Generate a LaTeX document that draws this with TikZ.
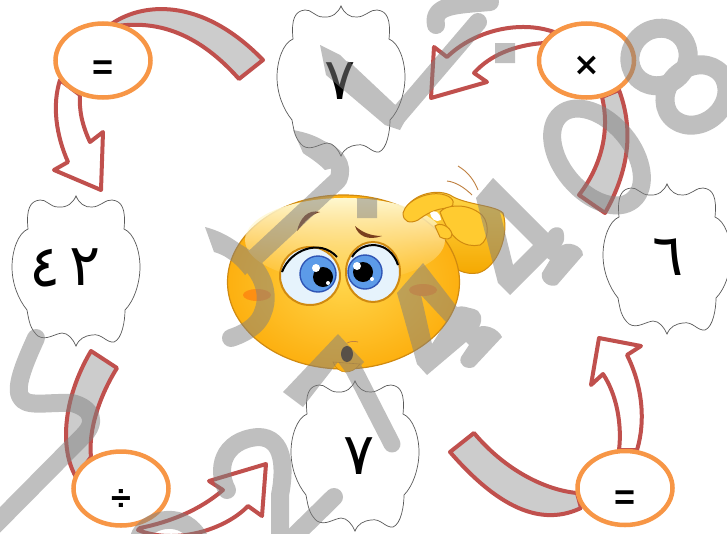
\documentclass[tikz,border=0pt]{standalone}
\usepackage{fontspec}
\setmainfont{Liberation Sans}
\newfontfamily\arabicfont[Script=Arabic]{DejaVu Sans}
\newfontfamily\signfont{DejaVu Sans}
\usetikzlibrary{calc,shapes.geometric,fadings}
\definecolor{arrowred}{HTML}{C0504D}
\definecolor{ringorange}{HTML}{F79646}
\definecolor{bandgray}{HTML}{CCCCCC}
\definecolor{faceline}{HTML}{D08A10}
\definecolor{facemid}{HTML}{FFD54A}
\definecolor{facerim}{HTML}{FDB010}
\definecolor{facetop}{HTML}{FFF8D0}
\definecolor{fingerfill}{HTML}{FFCB30}
\definecolor{palmtop}{HTML}{FFD84A}
\definecolor{palmbottom}{HTML}{F5A800}
\definecolor{eyewhite}{HTML}{E6F3FC}
\definecolor{irisfill}{HTML}{5C9BE8}
\definecolor{irisline}{HTML}{2F55B5}
\definecolor{browcolor}{HTML}{7A3F1E}
\tikzset{
  bandshape/.style={draw=arrowred,line width=4pt,fill=bandgray,line join=round},
  arrowshape/.style={draw=arrowred,line width=4pt,fill=white,line join=round},
  ring/.style={draw=ringorange,line width=4.5pt,fill=white,ellipse,inner sep=0pt,minimum width=95pt,minimum height=74pt},
  opsign/.style={font=\fontsize{36}{36}\selectfont\bfseries},
  digit/.style={font=\arabicfont\fontsize{58}{58}\selectfont,inner sep=0pt},
  wm/.style={draw=gray,line width=18pt,line cap=round,line join=round},
  wmfill/.style={fill=gray},
  cloudline/.style={draw=black!65,line width=.7pt,fill=white},
}
\newcommand{\cloudat}[2]{%
  \draw[cloudline,shift={(#1,#2)}]
   (0,-75) .. controls (-3,-68) and (-9,-63) .. (-18,-64)
   .. controls (-26,-64) and (-30,-72) .. (-36,-71)
   .. controls (-46,-70) and (-50,-62) .. (-48,-42)
   .. controls (-58,-38) and (-64,-20) .. (-64,-4)
   .. controls (-64,12) and (-58,28) .. (-49,39)
   .. controls (-47,50) and (-46,58) .. (-38,65)
   .. controls (-30,70) and (-22,63) .. (-14,62)
   .. controls (-8,62) and (-3,68) .. (0,75)
   .. controls (3,68) and (8,65) .. (16,64)
   .. controls (26,62) and (30,72) .. (38,71)
   .. controls (46,68) and (49,50) .. (49,39)
   .. controls (58,30) and (64,12) .. (64,-4)
   .. controls (64,-20) and (58,-38) .. (48,-42)
   .. controls (50,-62) and (46,-70) .. (36,-71)
   .. controls (30,-72) and (24,-64) .. (16,-64)
   .. controls (9,-63) and (3,-68) .. (0,-75) -- cycle;}
\begin{document}
\begin{tikzpicture}[x=1pt,y=-1pt]
\useasboundingbox (0,0) rectangle (727,533);
\clip (0,0) rectangle (727,533);
\fill[white] (0,0) rectangle (727,533);

% clouds
\cloudat{341}{81}
\cloudat{76}{271}
\cloudat{667}{259}
\cloudat{355}{456}
\node[digit] (d7a) at (340,81) {٧};
\node[digit] (d4) at (45,268) {٤};
\node[digit] (d2) at (85,267) {٢};
\node[digit] (d6) at (668,257) {٦};
\node[digit] (d7b) at (359,456) {٧};

% block arrows and bands
\draw[bandshape] (110,25) .. controls (140,3) and (200,-5) .. (263,60) -- (239,79)
   .. controls (200,35) and (160,20) .. (117,26) -- cycle;
\draw[arrowshape] (60,80) .. controls (52,105) and (56,135) .. (68,162) -- (54,170) -- (101,190)
   -- (103,132) -- (90,142) .. controls (82,125) and (79,110) .. (80,95) -- cycle;
\draw[arrowshape] (554,32) .. controls (520,20) and (475,30) .. (447,57) -- (434,47) -- (431,98)
   -- (487,82) -- (474,73) .. controls (490,55) and (515,45) .. (544,43) -- cycle;
\draw[bandshape] (619,90) .. controls (632,125) and (632,165) .. (605,213) -- (579,195)
   .. controls (602,165) and (610,130) .. (602,97) -- cycle;
\draw[arrowshape] (637,450) .. controls (646,420) and (642,385) .. (627,355) -- (641,346) -- (599,338)
   -- (591,385) -- (603,374) .. controls (617,395) and (622,425) .. (619,450) -- cycle;
\draw[bandshape] (577,493) .. controls (545,490) and (505,470) .. (474,433) -- (450,452)
   .. controls (490,498) and (535,530) .. (581,508) -- cycle;
\draw[bandshape] (91,351) -- (117,368) .. controls (100,395) and (88,430) .. (91,457) -- (76,477)
   .. controls (60,450) and (62,400) .. (91,351) -- cycle;
\draw[arrowshape] (140,528) .. controls (170,522) and (200,510) .. (223,490) -- (209,481) -- (266,464)
   -- (262,516) -- (248,506) .. controls (225,530) and (175,545) .. (138,530) -- cycle;

% rings
\node[ring] (eqa) at (103,60.5) {};
\node[ring] (mul) at (586.5,60.5) {};
\node[ring] (dvd) at (121,488.5) {};
\node[ring] (eqb) at (625,488) {};
\node[opsign] (teqa) at (103,70) {=};
\node[opsign,font=\signfont\bfseries\fontsize{32}{32}\selectfont] (tmul) at (587,66) {×};
\node[opsign] (tdvd) at (121,500) {÷};
\node[opsign] (teqb) at (625,500) {=};

% emoji: hand behind face
\shade[top color=palmtop,bottom color=palmbottom,draw=faceline,line width=1pt,line join=round] (403,213)
  .. controls (410,195) and (435,188) .. (450,195)
  .. controls (465,205) and (495,205) .. (503,213)
  .. controls (510,235) and (497,268) .. (478,273)
  .. controls (465,275) and (455,270) .. (450,262) -- (410,225) -- cycle;
% face
\shade[inner color=facemid,outer color=facerim,draw=faceline,line width=1.2pt]
  (343.5,282) ellipse [x radius=116,y radius=87];
\fill[facetop,path fading=south] (345,240) ellipse [x radius=100,y radius=42];
\fill[facerim,draw=faceline,line width=.6pt] (333,362) .. controls (338,375) and (352,375) .. (360,364) -- cycle;
% cheeks
\fill[red!60!orange,opacity=.3] (257,295) ellipse [x radius=14,y radius=6];
\fill[red!60!orange,opacity=.3] (423,290) ellipse [x radius=14,y radius=6];
% eyes
\draw[faceline,line width=2pt,fill=eyewhite] (310,276) ellipse [x radius=30,y radius=29];
\draw[faceline,line width=2pt,fill=eyewhite] (373,272) ellipse [x radius=27,y radius=30];
\draw[black,line width=2pt] (282,272) .. controls (290,250) and (320,238) .. (337,257);
\draw[black,line width=2pt] (352,257) .. controls (362,240) and (390,240) .. (398,265);
\draw[irisline,line width=1.4pt,fill=irisfill] (318,274) circle [radius=18];
\draw[irisline,line width=1.4pt,fill=irisfill] (365,272) circle [radius=17];
\fill[black] (323,277) circle [radius=10];
\fill[black] (363,272) circle [radius=10];
\fill[white] (316,268) circle [radius=4];
\fill[white] (357,266) circle [radius=4];
\fill[white] (328,283) circle [radius=2];
\fill[white] (372,279) circle [radius=2];
% brows
\fill[browcolor] (297,231) .. controls (300,218) and (308,209) .. (320,212) .. controls (310,215) and (305,222) .. (297,231) -- cycle;
\fill[browcolor] (355,226) .. controls (358,236) and (368,241) .. (382,236) .. controls (370,236) and (362,232) .. (355,226) -- cycle;
% mouth
\fill[black!75!brown] (347,354) ellipse [x radius=6,y radius=8];
\draw[brown,line width=.7pt] (347,343) .. controls (351,341) and (355,341) .. (358,342);
% fingers
\draw[faceline,line width=1pt,fill=fingerfill] (403,213) .. controls (406,200) and (430,190) .. (445,195)
  .. controls (455,198) and (455,205) .. (450,208) .. controls (435,208) and (425,215) .. (418,220) .. controls (410,224) and (403,222) .. (403,213) -- cycle;
\draw[faceline,line width=1pt,fill=fingerfill] (440,212) .. controls (445,205) and (465,203) .. (478,212)
  .. controls (490,218) and (490,240) .. (480,245) .. controls (465,248) and (450,240) .. (440,212) -- cycle;
\draw[faceline,line width=1pt,fill=fingerfill] (435,226) .. controls (440,222) and (450,226) .. (452,234) .. controls (452,240) and (445,240) .. (440,237) -- cycle;
\fill[white] (430,213) .. controls (435,209) and (440,212) .. (441,220) .. controls (436,223) and (431,219) .. (430,213) -- cycle;
\draw[brown,line width=.9pt] (458,166) .. controls (468,172) and (474,180) .. (478,190);
\draw[brown,line width=.9pt] (447,181) .. controls (456,182) and (465,188) .. (472,195);

% watermark
\begin{scope}[transparency group,opacity=.5]
 % 8
 \draw[wm,line width=19pt,rotate around={40:(659,57)}] (659,57) ellipse [x radius=30,y radius=28];
 \draw[wm,line width=19pt,rotate around={40:(696,95)}] (696,95) ellipse [x radius=33,y radius=28];
 % 0
 \draw[wm,rotate around={-50:(597,157)}] (597,157) ellipse [x radius=56,y radius=35];
 % upper stroke
 \fill[wmfill] (320,45) -- (340,55) -- (397,110) -- (400,108) -- (425,84) -- (400,130) -- (385,125) -- (326,75) -- cycle;
 \draw[wm] (345,70) -- (396,118) -- (478,22);
 \draw[wm] (436,25) .. controls (432,5) and (455,5) .. (490,2);
 \fill[wmfill] (495,43) rectangle (515,63);
 \fill[wmfill] (357,198) rectangle (377,218);
 % hooked stroke at the top of the face
 \fill[wmfill] (293,130) .. controls (320,135) and (335,145) .. (345,165) -- (325,170) .. controls (315,160) and (305,155) .. (303,153) -- cycle;
 \draw[wm,line cap=butt] (312,147) .. controls (335,152) and (345,165) .. (338,180) -- (250,262);
 % hooked stroke at left of the face
 \fill[wmfill] (205,227) .. controls (225,232) and (245,245) .. (258,262) -- (245,275) .. controls (235,262) and (225,255) .. (214,252) -- cycle;
 \draw[wm] (232,250) .. controls (258,262) and (272,290) .. (263,312) .. controls (258,328) and (240,335) .. (231,338);
 % first 4
 \fill[wmfill,even odd rule] (476,198) -- (493,178) -- (548,233)
   .. controls (552,225) and (564,225) .. (564,235) .. controls (565,240) and (563,244) .. (560,247)
   .. controls (566,240) and (583,245) .. (583,255) -- (557,285)
   .. controls (550,288) and (540,282) .. (542,273) -- (550,260) -- (547,258) -- (510,295) -- (498,283) -- cycle
   (500,212) -- (533,245) -- (513,265) -- cycle;
 % second 4
 \fill[wmfill,even odd rule] (397,293) -- (423,263) -- (457,307)
   .. controls (463,305) and (468,308) .. (474,309) .. controls (480,310) and (484,318) .. (479,327)
   .. controls (484,324) and (498,328) .. (502,337) -- (474,367)
   .. controls (466,370) and (458,365) .. (461,357) -- (469,345) -- (466,342) -- (427,375) -- (417,364) -- cycle
   (421,295) -- (446,322) -- (432,344) -- cycle;
 % "1" with its wedge
 \fill[wmfill] (283,392) -- (338,334) -- (364,362) -- (350,378) -- (338,362) -- (303,407) -- cycle;
 \draw[wm,line width=17pt] (352,366) -- (392,444);
 % lower left
 \fill[wmfill] (33,332) -- (43,342) -- (30,370) -- (20,365) -- cycle;
 \draw[wm] (36,338) .. controls (26,360) and (15,385) .. (20,396) .. controls (25,408) and (45,402) .. (72,403)
   .. controls (92,408) and (98,422) .. (82,437) -- (-15,535);
 % lower middle
 \draw[wm] (227,490) .. controls (216,470) and (222,440) .. (258,437) .. controls (285,437) and (285,470) .. (280,495) -- (280,545);
 \draw[wm] (334,497) -- (280,550);
 \draw[wm] (140,535) .. controls (150,518) and (185,510) .. (200,540);
\end{scope}
\end{tikzpicture}
\end{document}
